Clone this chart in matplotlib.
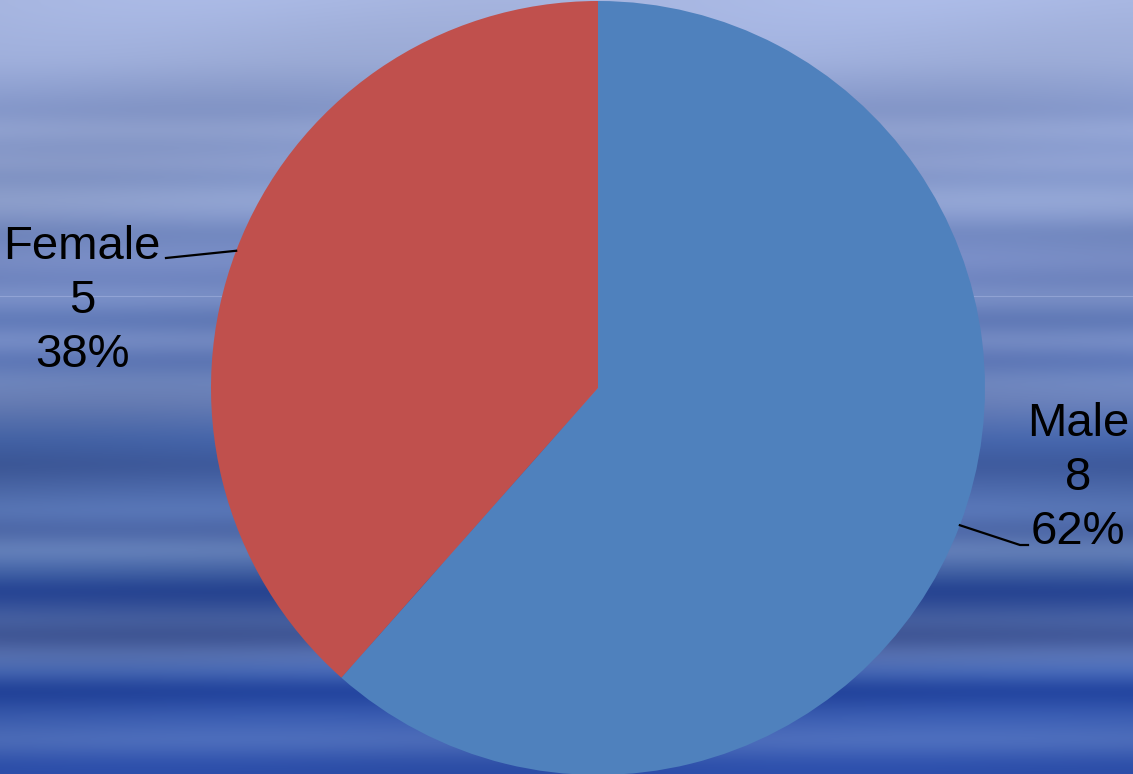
import numpy as np
import matplotlib
matplotlib.use("Agg")
from matplotlib import pyplot as plt
from matplotlib.colors import to_rgb

# slice data
labels = ["Male", "Female"]
counts = [8, 5]
colors = ["#4f81bd", "#c0504d"]

W, H = 1133, 774

# backdrop bands: (row from top, colour)
band_rows = [0, 60, 110, 130, 145, 165, 175, 200, 215, 232, 260, 280, 296, 320, 340,
             360, 380, 400, 440, 465, 510, 530, 550, 575, 590, 620, 635, 655, 670,
             690, 715, 740, 765, 774]
band_cols = ["#a9b8e3", "#9eaeda", "#8396c9", "#94a5d3", "#8699cb", "#8fa0cf", "#8094c7",
             "#93a5d2", "#8699cb", "#6f85bc", "#7a8ec6", "#6c82bd", "#7e93c9", "#5c76b5",
             "#7a90c8", "#5a74b5", "#7088c0", "#6a80b8", "#4464a9", "#3c5798", "#5a78b8",
             "#4a64a4", "#6884bc", "#3c5ca1", "#213f90", "#4a64a4", "#3c5292", "#5a74b4",
             "#4a6cb8", "#1d3e98", "#3a5cb0", "#5070bc", "#2c4ea9", "#2c4ea9"]


def backdrop():
    rows = np.arange(H)
    rgb = np.array([to_rgb(c) for c in band_cols])
    col = np.stack([np.interp(rows, band_rows, rgb[:, k]) for k in range(3)], axis=1)
    # soften the bands
    k = np.exp(-0.5 * (np.arange(-18, 19) / 6.0) ** 2)
    k /= k.sum()
    pad = np.pad(col, ((18, 18), (0, 0)), mode="edge")
    col = np.stack([np.convolve(pad[:, i], k, mode="valid") for i in range(3)], axis=1)
    img = np.repeat(col[:, None, :], W, axis=1)
    # gentle left/right shading so the streaks are not perfectly flat
    xs = np.arange(W)[None, :]
    ys = rows[:, None]
    shade = 1 + 0.018 * np.sin(2 * np.pi * xs / 700 + ys / 40.0) + 0.02 * (xs / W - 0.5)
    img = img * shade[:, :, None]
    return np.clip(img, 0, 1)


fig = plt.figure(figsize=(W / 100, H / 100), dpi=100)
ax = fig.add_axes([0, 0, 1, 1])
ax.imshow(backdrop(), extent=(0, W, 0, H), origin="upper", zorder=0, aspect="auto")
ax.axhline(H - 296, color="#b8c4ec", lw=0.8, alpha=0.4, zorder=1)

cx, cy, r = 598, H - 388, 387
wedges, _ = ax.pie(counts, colors=colors, startangle=90, counterclock=False,
                   center=(cx, cy), radius=r, wedgeprops=dict(linewidth=0))
for w in wedges:
    w.set_zorder(2)

total = sum(counts)
text_pos = [(1078, H - 478), (82, H - 301)]
elbows = [[(1020, H - 545), (1028, H - 545)], [(166, H - 258)]]
for w, name, n, (tx, ty), elbow in zip(wedges, labels, counts, text_pos, elbows):
    mid = np.deg2rad((w.theta1 + w.theta2) / 2)
    sx, sy = cx + r * np.cos(mid), cy + r * np.sin(mid)
    pts = [(sx, sy)] + elbow
    ax.plot([p[0] for p in pts], [p[1] for p in pts], color="black", lw=1.6, zorder=3)
    ax.text(tx, ty, "{}\n{}\n{:.0f}%".format(name, n, 100 * n / total),
            ha="center", va="center", fontsize=34, family="Liberation Sans",
            linespacing=1.3, zorder=4)

ax.set_xlim(0, W)
ax.set_ylim(0, H)
ax.set_aspect("auto")
ax.axis("off")
fig.savefig("out.png", dpi=100)
